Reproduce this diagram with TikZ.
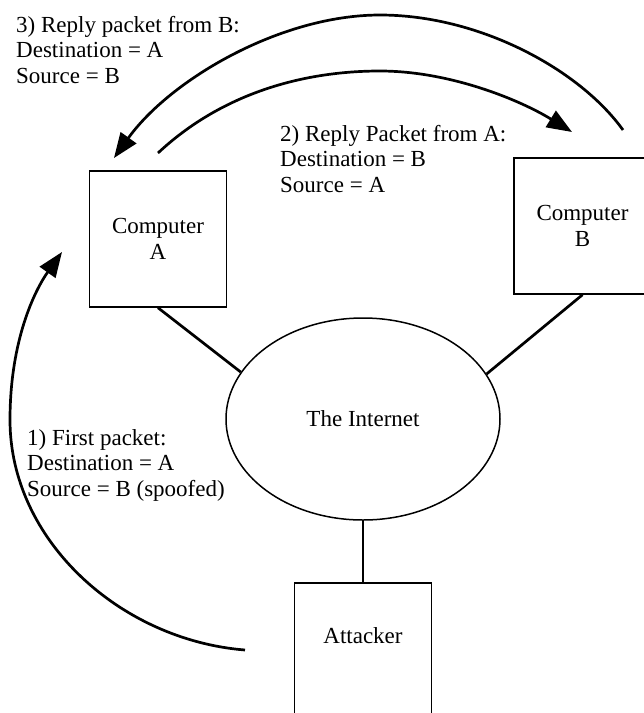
\documentclass[tikz,border=0pt]{standalone}
\usepackage{fontspec}
\setmainfont{Liberation Serif}
\usetikzlibrary{shapes.geometric,arrows.meta}

\tikzset{
  host/.style={draw, line width=1.5pt, rectangle, minimum width=137pt,
    minimum height=136pt, inner sep=0pt, align=center},
  cloud/.style={draw, line width=1.5pt, ellipse, minimum width=274pt,
    minimum height=202pt, inner sep=0pt},
  link/.style={line width=2.7pt},
  flow/.style={line width=2.7pt, -{Triangle[length=25pt,width=19pt]}},
  note/.style={anchor=base west, align=left, inner sep=0pt},
}

\begin{document}
\begin{tikzpicture}[x=1pt, y=-1pt,
  every node/.style={font=\fontsize{23}{25.5}\selectfont}]
  \clip (0,0) rectangle (644,713);
  \fill[white] (0,0) rectangle (644,713);

  % hosts and the network
  \node[host] (A) at (158,239) {Computer\\A};
  \node[host] (B) at (582.5,226) {Computer\\B};
  \node[cloud] (net) at (363,419) {The Internet};
  \node[host, minimum height=180pt, anchor=north] (att) at (363,582) {};
  \node[anchor=base, inner sep=0pt] (attname) at (363,643) {Attacker};

  % wiring
  \draw[link] (A.south) -- (net.159.5);
  \draw[link] (B.south) -- (net.20.5);
  \draw[link] (net.south) -- (att.north);

  % packet flows
  \coordinate (f1s) at (245,650);
  \coordinate (f1e) at (62,252);
  \coordinate (f2s) at (158,153);
  \coordinate (f2e) at (572,132);
  \coordinate (f3s) at (623,130);
  \coordinate (f3e) at (114,158);

  \draw[flow] (f1s) .. controls (120,640) and (10,540) .. (10,420)
              .. controls (10,340) and (35,290) .. (f1e);
  \draw[flow] (f2s) .. controls (220,95) and (300,71) .. (380,71)
              .. controls (450,71) and (520,100) .. (f2e);
  \draw[flow] (f3s) .. controls (580,70) and (480,15) .. (380,15)
              .. controls (280,15) and (170,80) .. (f3e);

  % packet descriptions (anchored at the last baseline)
  \node[note] (n3) at (16,83) {3) Reply packet from B:\\Destination = A\\Source = B};
  \node[note] (n2) at (280,192) {2) Reply Packet from A:\\Destination = B\\Source = A};
  \node[note] (n1) at (27,496) {1) First packet:\\Destination = A\\Source = B (spoofed)};
\end{tikzpicture}
\end{document}
